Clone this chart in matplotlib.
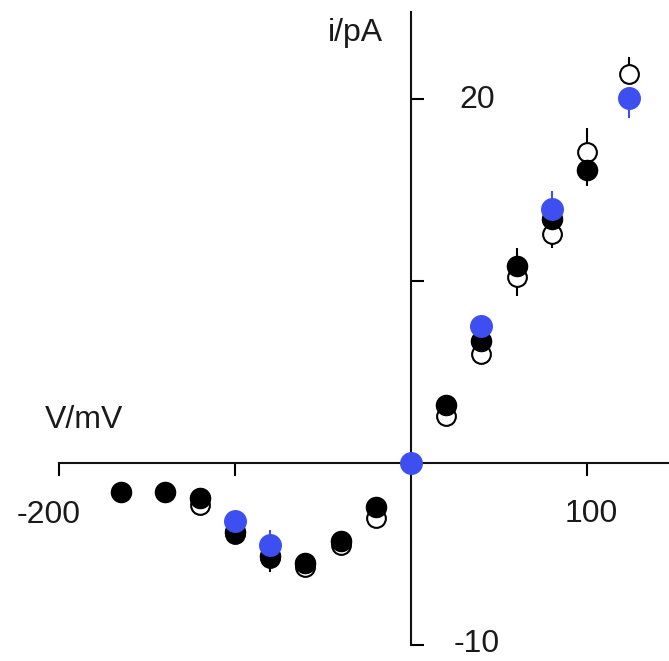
import matplotlib
matplotlib.use("Agg")
import matplotlib.pyplot as plt

plt.rcParams['font.family'] = ['Liberation Sans', 'DejaVu Sans']

# voltages (mV) and currents (pA)
v_open = [-120, -100, -80, -60, -40, -20, 20, 40, 60, 80, 100, 124]
i_open = [-2.3, -3.9, -5.2, -5.7, -4.5, -3.0, 2.6, 6.0, 10.2, 12.6, 17.1, 21.4]
open_lo = [0, 0, 0, 0, 0, 0, 0, 0, 1.0, 0.8, 0, 0]
open_hi = [0, 0, 0, 0, 0, 0, 0, 0, 0, 0, 1.3, 0.9]

v_black = [-165, -140, -120, -100, -80, -60, -40, -20, 20, 40, 60, 80, 100]
i_black = [-1.6, -1.6, -1.9, -3.8, -5.1, -5.5, -4.3, -2.4, 3.2, 6.7, 10.8, 13.4, 16.1]
black_lo = [0, 0, 0, 0.6, 0.9, 0, 0, 0, 0, 0, 0, 0, 0.9]
black_hi = [0, 0, 0, 0, 0, 0, 0, 0, 0, 0, 1.0, 1.0, 0]

v_blue = [-100, -80, 0, 40, 80, 124]
i_blue = [-3.2, -4.5, 0.0, 7.5, 13.95, 20.05]
blue_lo = [0, 0, 0, 0, 0, 1.1]
blue_hi = [0, 0.8, 0, 0, 1.0, 0]

fig = plt.figure(figsize=(6.69, 6.61), dpi=100)
ax = fig.add_axes([0, 0, 1, 1])
ax.set_xlim(-233.5, 146.6)
ax.set_ylim(-10.88, 25.44)

ax.errorbar(v_open, i_open, yerr=[open_lo, open_hi], fmt='o', ms=13.5, mfc='white',
            mec='black', mew=1.5, ecolor='black', elinewidth=1.5, capsize=0, zorder=3)
ax.errorbar(v_black, i_black, yerr=[black_lo, black_hi], fmt='o', ms=14.5, mfc='black',
            mec='black', ecolor='black', elinewidth=1.5, capsize=0, zorder=4)
ax.errorbar(v_blue, i_blue, yerr=[blue_lo, blue_hi], fmt='o', ms=15.5, mfc='#3d4ff0',
            mec='#3d4ff0', ecolor='#3d4ff0', elinewidth=1.5, capsize=0, zorder=5)

# axes crossing at the origin
for s in ['top', 'right']:
    ax.spines[s].set_visible(False)
ax.spines['left'].set_position(('data', 0))
ax.spines['bottom'].set_position(('data', 0))
ax.spines['left'].set_bounds(-10, 24.8)
ax.spines['bottom'].set_bounds(-200, 146.6)
for s in ['left', 'bottom']:
    ax.spines[s].set_linewidth(1.5)
    ax.spines[s].set_color('#111111')

ax.set_xticks([-200, -100, 100])
ax.set_yticks([-10, 10, 20])
ax.tick_params(axis='x', direction='out', length=9, width=1.5, labelbottom=False)
ax.tick_params(axis='y', direction='in', length=9, width=1.5, labelleft=False)

txt = dict(fontsize=23, color='#1a1a1a', ha='center', va='center')
ax.text(-31.8, 23.6, 'i/pA', **txt)
ax.text(-185.8, 2.36, 'V/mV', **txt)
ax.text(-206, -2.85, '-200', **txt)
ax.text(102.3, -2.8, '100', **txt)
ax.text(37.5, 19.95, '20', **txt)
ax.text(37.5, -9.95, '-10', **txt)

fig.savefig('out.png', dpi=100)
